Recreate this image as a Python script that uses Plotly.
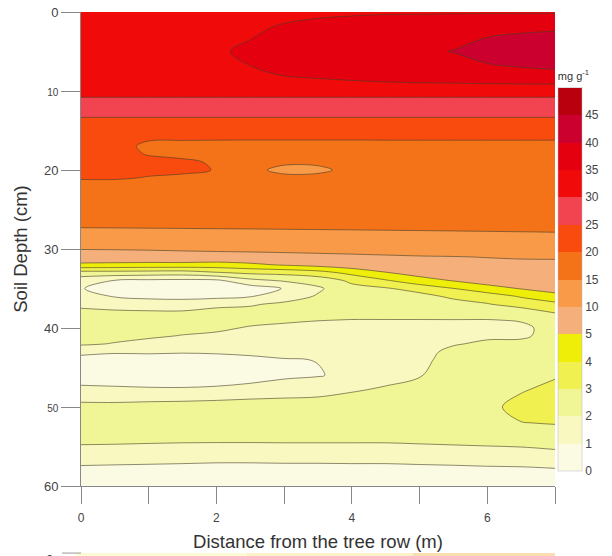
import plotly.graph_objects as go

# ---------------- data (mg g-1) ----------------
DIST = [0, 0.5, 1, 1.5, 2, 2.5, 3, 3.5, 4, 4.5, 5, 5.5, 6, 6.5, 7]
DEPTH = [0, 2, 5, 8, 10, 12, 14, 16, 17, 18, 19, 20, 21, 22, 24, 26, 28,
         30, 31, 32, 33, 34, 35, 36, 37, 38, 39, 40, 41, 42, 43, 44,
         46, 48, 50, 52, 54, 56, 58, 60]

D00 = [32.25, 32.25, 32.5, 32.5, 32.75, 33.25, 33.75, 34.0, 34.25, 34.5, 34.5, 34.6, 34.6, 34.6, 34.6]
D02 = [32.5, 32.5, 32.75, 33.0, 33.25, 34.25, 35.5, 36.5, 37.25, 37.75, 38.0, 38.5, 39.0, 39.25, 39.5]
D05 = [33.0, 33.25, 33.5, 34.0, 34.5, 35.75, 37.0, 38.0, 38.75, 39.25, 39.5, 40.1, 41.5, 42.5, 43.0]
D08 = [32.75, 32.75, 33.0, 33.25, 33.75, 34.5, 35.1, 35.75, 36.5, 37.25, 37.75, 38.0, 38.5, 38.75, 39.0]
D10 = [32.0, 32.0, 32.0, 32.0, 32.0, 32.0, 32.0, 32.0, 32.0, 32.0, 32.0, 32.0, 32.0, 32.0, 32.0]
D12 = [27.0, 27.0, 27.0, 27.0, 27.0, 27.0, 27.0, 27.0, 27.0, 27.0, 27.0, 27.0, 27.0, 27.0, 27.0]
D14 = [24.0, 24.0, 24.0, 24.0, 24.0, 24.0, 24.0, 24.0, 24.0, 24.0, 24.0, 24.0, 24.0, 24.0, 24.0]
D16 = [23.0, 22.5, 20.5, 20.5, 20.5, 20.5, 20.5, 20.5, 20.5, 20.5, 20.5, 20.5, 20.5, 20.5, 20.5]
D17 = [22.5, 21.75, 19.0, 18.5, 18.25, 18.0, 18.0, 18.0, 18.0, 18.25, 18.25, 18.25, 18.25, 18.25, 18.25]
D18 = [22.25, 21.5, 19.75, 19.0, 18.0, 17.25, 17.0, 17.0, 17.25, 17.5, 17.5, 17.5, 17.5, 17.5, 17.5]
D19 = [22.0, 21.75, 21.25, 20.75, 19.5, 16.5, 15.65, 15.65, 16.5, 17.25, 17.25, 17.25, 17.25, 17.25, 17.25]
D20 = [21.5, 21.5, 21.0, 20.75, 19.85, 16.0, 14.0, 14.25, 16.0, 17.25, 17.25, 17.25, 17.25, 17.25, 17.25]
D21 = [20.5, 20.5, 19.75, 19.25, 18.0, 16.75, 16.0, 16.0, 16.75, 17.25, 17.25, 17.25, 17.25, 17.25, 17.25]
D22 = [18.0, 18.0, 18.0, 18.0, 17.5, 17.25, 17.0, 17.0, 17.25, 17.25, 17.25, 17.25, 17.25, 17.25, 17.25]
D24 = [17.5, 17.5, 17.5, 17.5, 17.5, 17.5, 17.5, 17.5, 17.5, 17.5, 17.5, 17.5, 17.5, 17.5, 17.5]
D26 = [16.5, 16.5, 16.5, 16.5, 16.5, 16.5, 16.5, 16.5, 16.5, 16.5, 16.5, 16.5, 16.5, 16.5, 16.5]
D28 = [14.2, 14.25, 14.3, 14.35, 14.4, 14.45, 14.5, 14.55, 14.6, 14.65, 14.7, 14.75, 14.8, 14.85, 14.9]
D30 = [10.1, 10.15, 10.25, 10.4, 10.5, 10.6, 10.75, 10.9, 11.1, 11.3, 11.5, 11.75, 12.0, 12.25, 12.5]
D31 = [8.5, 8.5, 8.6, 8.75, 8.9, 9.0, 9.1, 9.25, 9.4, 9.6, 9.8, 9.9, 10.1, 10.3, 10.4]
D32 = [4.8, 4.75, 4.7, 4.7, 4.6, 4.8, 5.5, 6.75, 8.0, 8.0, 8.5, 9.0, 9.1, 9.2, 9.1]
D33 = [2.6, 2.6, 2.55, 2.5, 2.9, 3.2, 3.3, 3.6, 4.3, 4.95, 7.0, 7.5, 8.0, 8.25, 8.5]
D34 = [1.4, 0.95, 0.8, 0.75, 0.8, 1.7, 2.1, 2.4, 3.2, 3.9, 4.6, 5.25, 6.75, 7.25, 7.5]
D35 = [1.05, 0.6, 0.5, 0.45, 0.45, 0.5, 1.05, 1.85, 2.7, 2.9, 3.4, 3.98, 4.7, 5.25, 6.5]
D36 = [1.3, 0.95, 0.75, 0.7, 0.75, 0.95, 1.5, 2.1, 2.5, 2.55, 2.65, 3.2, 3.4, 4.1, 4.75]
D37 = [1.8, 1.6, 1.55, 1.5, 1.75, 1.9, 2.2, 2.3, 2.4, 2.4, 2.45, 2.6, 2.95, 3.3, 3.7]
D38 = [2.2, 2.15, 2.1, 2.1, 2.3, 2.3, 2.3, 2.3, 2.25, 2.25, 2.25, 2.3, 2.4, 2.6, 3.05]
D39 = [2.35, 2.35, 2.3, 2.3, 2.3, 2.15, 2.1, 2.02, 1.98, 1.98, 1.98, 1.98, 1.97, 2.05, 2.5]
D40 = [2.35, 2.35, 2.25, 2.2, 2.1, 1.95, 1.85, 1.8, 1.8, 1.8, 1.75, 1.75, 1.8, 1.85, 2.25]
D41 = [2.3, 2.25, 2.1, 1.97, 1.9, 1.8, 1.7, 1.65, 1.65, 1.7, 1.65, 1.75, 1.9, 1.9, 2.22]
D42 = [2.15, 1.95, 1.8, 1.75, 1.6, 1.55, 1.5, 1.45, 1.5, 1.6, 1.7, 1.95, 2.1, 2.15, 2.35]
D43 = [1.25, 1.1, 1.15, 1.1, 1.15, 1.2, 1.3, 1.3, 1.4, 1.55, 1.8, 2.15, 2.3, 2.35, 2.5]
D44 = [0.7, 0.65, 0.6, 0.55, 0.6, 0.8, 0.95, 1.02, 1.3, 1.5, 1.85, 2.22, 2.4, 2.5, 2.65]
D46 = [0.5, 0.45, 0.4, 0.35, 0.35, 0.6, 0.85, 0.95, 1.2, 1.6, 1.97, 2.2, 2.5, 2.75, 2.92]
D48 = [1.3, 1.25, 1.2, 1.2, 1.3, 1.4, 1.5, 1.6, 1.95, 2.2, 2.3, 2.45, 2.75, 2.96, 3.25]
D50 = [2.3, 2.3, 2.4, 2.45, 2.5, 2.6, 2.65, 2.7, 2.7, 2.65, 2.7, 2.7, 2.8, 3.25, 3.4]
D52 = [2.5, 2.5, 2.5, 2.5, 2.55, 2.6, 2.6, 2.6, 2.65, 2.7, 2.75, 2.75, 2.85, 2.98, 3.05]
D54 = [2.25, 2.25, 2.22, 2.2, 2.2, 2.2, 2.2, 2.2, 2.2, 2.2, 2.25, 2.3, 2.35, 2.4, 2.55]
D56 = [1.6, 1.55, 1.5, 1.45, 1.4, 1.4, 1.45, 1.45, 1.45, 1.45, 1.5, 1.55, 1.6, 1.65, 1.75]
D58 = [0.75, 0.72, 0.7, 0.68, 0.65, 0.65, 0.65, 0.65, 0.68, 0.68, 0.72, 0.75, 0.8, 0.82, 0.9]
D60 = [0.6, 0.6, 0.55, 0.55, 0.5, 0.5, 0.5, 0.5, 0.5, 0.5, 0.55, 0.55, 0.6, 0.6, 0.65]

ROWS = [D00, D02, D05, D08, D10, D12, D14, D16, D17, D18, D19, D20, D21, D22,
        D24, D26, D28, D30, D31, D32, D33, D34, D35, D36, D37, D38, D39, D40,
        D41, D42, D43, D44, D46, D48, D50, D52, D54, D56, D58, D60]

LEVEL_VALUES = [0, 1, 2, 3, 4, 5, 10, 15, 20, 25, 30, 35, 40, 45, 50]
CB_LABELS = ["0", "1", "2", "3", "4", "5", "10", "15", "20", "25", "30", "35", "40", "45"]
BAND_COLORS = ["#FBFBE3", "#F8F8C0", "#F0F596", "#F0F050", "#EEEE08",
               "#F4AF7A", "#F89A48", "#F57318", "#FA4B0E", "#F24450",
               "#F00A0A", "#E4000E", "#CC002E", "#B8000F"]
X_TICKS = [0, 2, 4, 6]
X_MINOR = [1, 3, 5, 7]
Y_TICKS = [0, 10, 20, 30, 40, 50, 60]
Y_TICKTEXT = ["0", "<span style='font-size:10px'>10</span>", "20", "30", "40",
              "<span style='font-size:10px'>50</span>", "60"]


def to_index(v):
    """Map a value (mg g-1) onto the non-uniform level scale (index 0..14)."""
    for i in range(len(LEVEL_VALUES) - 1):
        lo, hi = LEVEL_VALUES[i], LEVEL_VALUES[i + 1]
        if v <= hi:
            return i + (v - lo) / (hi - lo)
    return len(LEVEL_VALUES) - 1


Z = [[to_index(v) for v in row] for row in ROWS]

nlev = len(LEVEL_VALUES)          # 15 contour levels -> 14 bands
nband = len(BAND_COLORS)

# colour map used by the contour fills (plotly samples band k at s=(k+1)/nlev)
fill_scale = []
for k, c in enumerate(BAND_COLORS):
    lo = 0.0 if k == 0 else (k + 0.5) / nlev
    hi = 1.0 if k == nband - 1 else (k + 1.5) / nlev
    fill_scale += [[lo, c], [hi, c]]

# discrete colour map for the legend bar (index 0..14, one block per band)
bar_scale = []
for k, c in enumerate(BAND_COLORS):
    bar_scale += [[k / nband, c], [(k + 1) / nband, c]]

FONT = "Liberation Sans, Arial, sans-serif"

fig = go.Figure()
fig.add_trace(go.Contour(
    x=DIST, y=DEPTH, z=Z,
    autocontour=False,
    contours=dict(start=0, end=nlev - 1, size=1, coloring="fill", showlines=True),
    line=dict(color="rgba(70,62,40,0.75)", width=0.8, smoothing=1.0),
    colorscale=fill_scale,
    showscale=False,
    hoverinfo="skip",
))

# colour bar carrier (marker lies outside the axis ranges, so only the bar shows)
fig.add_trace(go.Scatter(
    x=[-5, -5], y=[-5, -5], mode="markers", hoverinfo="skip", showlegend=False,
    marker=dict(
        color=[0, nband], cmin=0, cmax=nband, colorscale=bar_scale, size=1,
        showscale=True,
        colorbar=dict(
            x=1.0065, xanchor="left", xpad=0,
            y=0.4557, yanchor="middle", ypad=0,
            len=0.848, lenmode="fraction",
            thickness=24, thicknessmode="pixels",
            tickmode="array", tickvals=list(range(nband)), ticktext=CB_LABELS,
            ticks="",
            tickfont=dict(family=FONT, size=12, color="#444"),
            outlinewidth=0.5, outlinecolor="#bbb",
            title=dict(text="mg g<sup>-1</sup>", side="top",
                       font=dict(family=FONT, size=11, color="#333")),
        ),
    ),
))

# partial top of the next panel below the figure
for x0, x1, col in [(-0.01, 0.35, "#FDFAD6"), (0.35, 0.7, "#FCF0C6"), (0.7, 1.0, "#FADDB0")]:
    fig.add_shape(type="rect", xref="paper", yref="paper", x0=x0, x1=x1,
                  y0=-0.16, y1=-0.1415, fillcolor=col, line=dict(width=0), layer="below")
fig.add_shape(type="line", xref="paper", yref="paper", x0=-0.04, x1=0.0,
              y0=-0.1415, y1=-0.1415, line=dict(color="#999", width=1))
fig.add_annotation(text="0", xref="paper", yref="paper", x=-0.067, y=-0.134,
                   xanchor="center", yanchor="top", showarrow=False,
                   font=dict(family=FONT, size=13, color="#444"))

fig.update_layout(
    width=612, height=556,
    margin=dict(l=81, r=57, t=12, b=70),
    paper_bgcolor="white", plot_bgcolor="white",
    font=dict(family=FONT, color="#333"),
    showlegend=False,
    xaxis=dict(
        automargin=False,
        range=[0, 7], tickmode="array", tickvals=X_TICKS,
        ticks="outside", ticklen=17, tickcolor="#888", tickwidth=1,
        minor=dict(tickmode="array", tickvals=X_MINOR, ticks="outside",
                   ticklen=17, tickcolor="#888", tickwidth=1, showgrid=False),
        showline=True, linecolor="#888", linewidth=1,
        showgrid=False, zeroline=False,
        tickfont=dict(family=FONT, size=12, color="#444"),
        ticklabelstandoff=4,
        title=dict(text="Distance from the tree row (m)",
                   font=dict(family=FONT, size=18.5, color="#333"), standoff=10),
    ),
    yaxis=dict(
        automargin=False,
        range=[60, 0], tickmode="array", tickvals=Y_TICKS, ticktext=Y_TICKTEXT,
        ticks="outside", ticklen=19, tickcolor="#888", tickwidth=1,
        showline=True, linecolor="#888", linewidth=1,
        showgrid=False, zeroline=False,
        tickfont=dict(family=FONT, size=13, color="#444"),
        title=dict(text="Soil Depth (cm)",
                   font=dict(family=FONT, size=18.5, color="#333"), standoff=11),
    ),
)

fig.write_html("out.html")
